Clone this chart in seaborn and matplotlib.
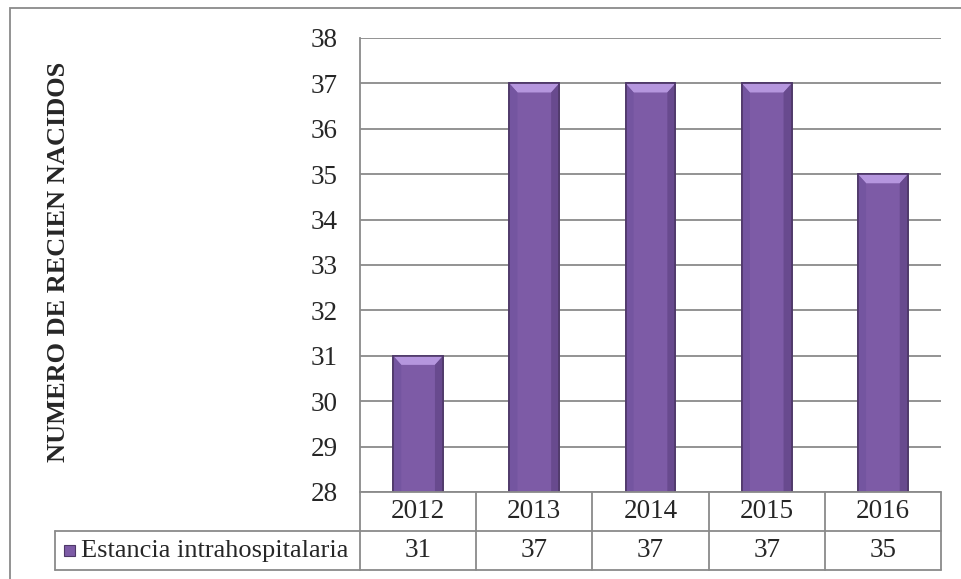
import numpy as np
import pandas as pd
import seaborn as sns
import matplotlib.pyplot as plt
from matplotlib.patches import Polygon, Rectangle
from matplotlib.lines import Line2D

# datos
anios = ["2012", "2013", "2014", "2015", "2016"]
estancia = [31, 37, 37, 37, 35]
serie = "Estancia intrahospitalaria"
titulo_y = "NUMERO DE RECIEN NACIDOS"
y_ticks = list(range(28, 39))

sns.set_style("white")
plt.rcParams["font.family"] = ["Liberation Serif", "DejaVu Serif"]

W, H = 961, 579
fs = 19.5
fig = plt.figure(figsize=(W / 100, H / 100), dpi=100)
ax = fig.add_axes([360 / W, 1 - 492 / H, (941 - 360) / W, (492 - 38) / H])

df = pd.DataFrame({"Anio": anios, "Valor": estancia})
sns.barplot(data=df, x="Anio", y="Valor", color="#7D5BA6", width=0.43,
            edgecolor="#4E3868", linewidth=1.2, saturation=1, ax=ax, zorder=3)

ax.set_ylim(y_ticks[0], y_ticks[-1])
ax.set_xlim(-0.5, len(anios) - 0.5)
ax.set_yticks(y_ticks)
ax.set_xticks([])
ax.set_xlabel("")
ax.set_ylabel("")
ax.tick_params(axis="y", length=0, pad=16, labelsize=fs)
ax.grid(axis="y", color="#8A8A8A", linewidth=1.3, zorder=0)
ax.set_axisbelow(True)
for s in ["top", "right", "bottom"]:
    ax.spines[s].set_visible(False)
ax.spines["left"].set_color("#8A8A8A")
ax.spines["left"].set_linewidth(1.3)

# bisel de las barras (a partir de los rectangulos de seaborn)
bx = 0.07
by = 0.2
for p in list(ax.patches):
    x0 = p.get_x()
    x1 = x0 + p.get_width()
    y0 = p.get_y()
    y1 = y0 + p.get_height()
    ax.add_patch(Polygon([[x0, y1], [x1, y1], [x1 - bx, y1 - by], [x0 + bx, y1 - by]],
                         closed=True, facecolor="#B596DE", edgecolor="none", zorder=4))
    ax.add_patch(Polygon([[x0, y1], [x0 + bx, y1 - by], [x0 + bx, y0], [x0, y0]],
                         closed=True, facecolor="#7455A0", edgecolor="none", zorder=4))
    ax.add_patch(Polygon([[x1, y1], [x1 - bx, y1 - by], [x1 - bx, y0], [x1, y0]],
                         closed=True, facecolor="#684A8E", edgecolor="none", zorder=4))
    ax.add_patch(Rectangle((x0, y0), x1 - x0, y1 - y0, facecolor="none",
                           edgecolor="#4E3868", linewidth=1.2, zorder=5))

# tabla de datos bajo el grafico
n = len(anios)
h = 39 / 454
L = (55 - 360) / 581
gris = "#8A8A8A"
def linea(xs, ys):
    ax.add_line(Line2D(xs, ys, transform=ax.transAxes, color=gris, lw=1.3, clip_on=False, zorder=6))

linea([0, 1], [0, 0])
linea([L, 1], [-h, -h])
linea([L, 1], [-2 * h, -2 * h])
linea([L, L], [-h, -2 * h])
for i in range(n + 1):
    linea([i / n, i / n], [0, -2 * h])

for i, (a, v) in enumerate(zip(anios, estancia)):
    ax.text((i + 0.5) / n, -h / 2, a, transform=ax.transAxes, ha="center", va="center", fontsize=fs)
    ax.text((i + 0.5) / n, -1.5 * h, str(v), transform=ax.transAxes, ha="center", va="center", fontsize=fs)

ax.add_patch(Rectangle(((64 - 360) / 581, -1.5 * h - 5.5 / 454), 11 / 581, 11 / 454,
                       transform=ax.transAxes, facecolor="#7D5BA6", edgecolor="#4E3868",
                       lw=0.8, clip_on=False, zorder=6))
ax.text((81 - 360) / 581, -1.5 * h, serie, transform=ax.transAxes, ha="left", va="center", fontsize=19)

# titulo eje y
fig.text(59 / W, 1 - 262 / H, titulo_y, rotation=90, ha="center", va="center",
         fontsize=19, fontweight="bold")

# borde exterior
fig.add_artist(Rectangle((10 / W, -0.05), 1.2, 1 - 8 / H + 0.05, transform=fig.transFigure,
                         facecolor="none", edgecolor="#8A8A8A", lw=1.3))

fig.savefig("out.png", dpi=100)
